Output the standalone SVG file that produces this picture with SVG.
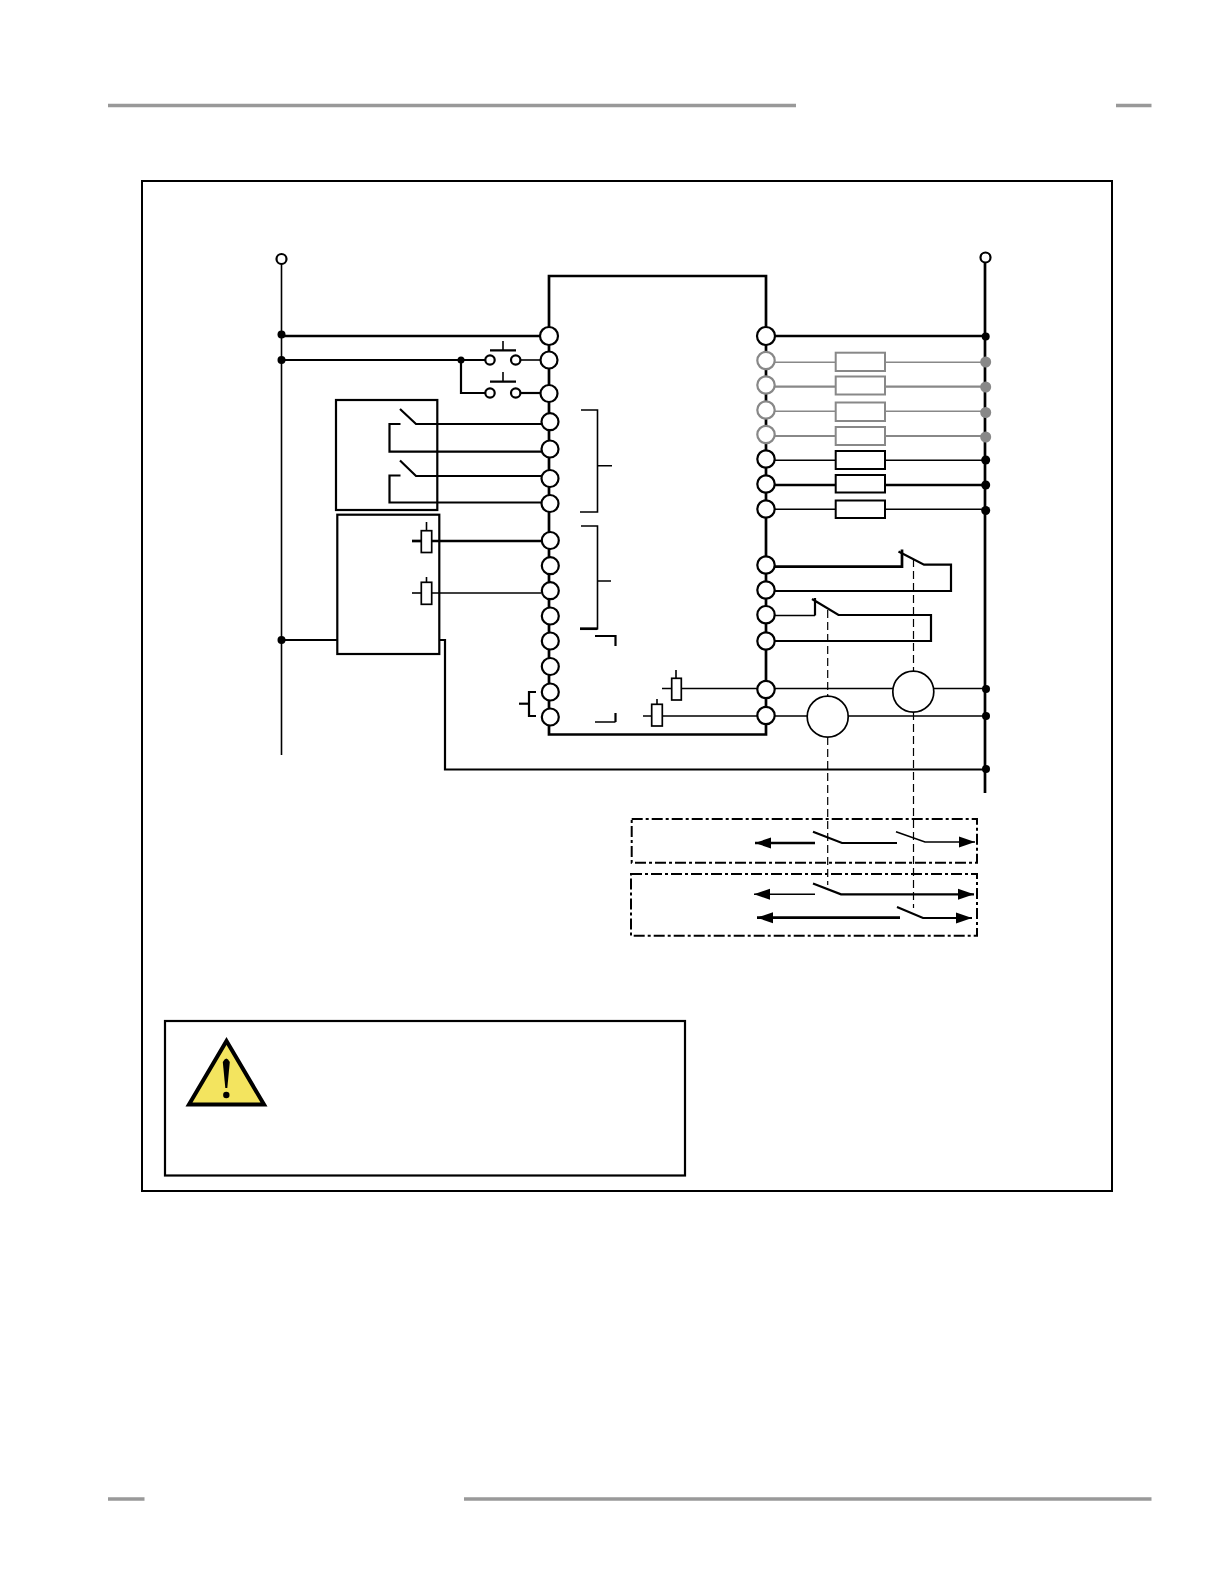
<svg xmlns="http://www.w3.org/2000/svg" width="1224" height="1584" viewBox="0 0 1224 1584">
<style>
.w{fill:none;stroke:#000;stroke-width:1.6}
.m{fill:none;stroke:#000;stroke-width:2.2}
.t{fill:none;stroke:#000;stroke-width:2.7}
.g{fill:none;stroke:#888;stroke-width:1.5}
.gm{fill:none;stroke:#888;stroke-width:2.2}
.term{fill:#fff;stroke:#000;stroke-width:2.2}
.gterm{fill:#fff;stroke:#888;stroke-width:2.2}
.dot{fill:#000}
.gdot{fill:#888}
.res{fill:#fff;stroke:#000;stroke-width:2}
.gres{fill:#fff;stroke:#888;stroke-width:2}
.coil{fill:#fff;stroke:#000;stroke-width:1.7}
.dash{fill:none;stroke:#000;stroke-width:1.2;stroke-dasharray:8 4}
.dd{fill:none;stroke:#000;stroke-width:2;stroke-dasharray:11 3 3 3}
.rule{fill:none;stroke:#999;stroke-width:3.500}
</style>
<defs>
<marker id="ah" markerUnits="userSpaceOnUse" markerWidth="17" markerHeight="12" refX="16" refY="6" orient="auto-start-reverse"><path d="M0 0.500L16 6L0 11.500Z" fill="#000"/></marker>
</defs>
<g id="page-rules">
<path class="rule" d="M108 105.500H796M1116 105.500H1151.500M108 1499H144.500M464 1499H1151.500"/>
</g>
<rect id="frame" x="142" y="181" width="970" height="1010" fill="none" stroke="#000" stroke-width="2"/>
<g id="connectors">
<path class="w" d="M281.500 264V755"/>
<path class="t" d="M985 260V793"/>
<path class="t" d="M549 336V276H766V336"/>
<path class="t" d="M549 336V734.500H766V336"/>
<path class="t" d="M281.500 336H540M775 336H985"/>
<path class="m" d="M281.500 360H485.500M461 360V393H485.500"/>
<path class="w" d="M520 360H540.500"/>
<path class="m" d="M520 393H540.500"/>
<path class="w" d="M503 341V350"/><path class="m" d="M490 350.300H516M490 381.700H516"/><path class="w" d="M503 372V381.700"/>
<path class="m" d="M541 424H416L400 409M541 476H416L400 460.500M541 502.500H389.500V475.500H400.500M541 451.700H389.500V424H400.500"/>
<path class="t" d="M431.700 541H541"/><path class="w" d="M431.700 593H541"/>
<path class="m" d="M281.500 640H337.300"/>
<path class="m" d="M439 640H445V769.500H985"/>
<path class="w" d="M581 410H597.500V512H580M597.500 465.700H612M581 526H597.500V628.700H590M597.500 581H611M595 722H615.500"/>
<path class="t" d="M580 628.700H597.500"/>
<path class="m" d="M595 636H615.500V646M615.500 722V713M536 692H529V716H536"/>
<path class="m" d="M519 703.700H529"/>
<path class="g" d="M775 362.300H835.700M885 362.300H985"/>
<path class="gm" d="M775 386.700H835.700M885 386.700H985"/>
<path class="g" d="M775 411.300H835.700M885 411.300H985"/>
<path class="gm" d="M775 436H835.700M885 436H985"/>
<path class="w" d="M775 460.300H835.700M885 460.300H985M775 509.300H835.700M885 509.300H985"/>
<path class="t" d="M775 485H835.700M885 485H985"/>
<path class="t" d="M775 566.700H902V549.500"/>
<path class="m" d="M898.500 551.500L924 564.700H951V591H775"/>
<path class="w" d="M775 615.500H815"/><path class="m" d="M815 615.500V598M812 599L838.500 615H931V641H775"/>
<path class="w" d="M676 670V678.300M662 688.500H671.700M681.300 688.500H757M775 688.500H893M934 688.500H985"/>
<path class="w" d="M657 699V704.300M643 716H651.700M662.300 716H757M775 716H807M848 716H985"/>
<path class="dash" d="M827.700 610V696M827.700 737V885"/>
<path class="dash" d="M913.500 559V671M913.500 712V908"/>
<path class="t" d="M815 843H755" marker-end="url(#ah)"/>
<path class="m" d="M813 831.700L842 843H897"/>
<path class="w" d="M896 831.700L925 842H975" marker-end="url(#ah)"/>
<path class="w" d="M815 894.300H754" marker-end="url(#ah)"/>
<path class="m" d="M813 883.500L841 894.300H974" marker-end="url(#ah)"/>
<path class="t" d="M900 917.700H757" marker-end="url(#ah)"/>
<path class="m" d="M897 907L923 918H972" marker-end="url(#ah)"/>
</g>
<g id="supply-left"><circle class="term" cx="281.500" cy="259" r="5"/></g>
<g id="supply-right"><circle class="term" cx="985.500" cy="257.500" r="5"/></g>
<g id="junctions">
<circle class="dot" cx="281.500" cy="334.500" r="4"/><circle class="dot" cx="281.500" cy="360" r="4"/><circle class="dot" cx="281.500" cy="640" r="4"/><circle class="dot" cx="461" cy="360" r="3.500"/>
<circle class="dot" cx="985.700" cy="336.500" r="4"/>
<circle class="gdot" cx="985.700" cy="362" r="5.500"/><circle class="gdot" cx="985.700" cy="387" r="5.500"/><circle class="gdot" cx="985.700" cy="412.500" r="5.500"/><circle class="gdot" cx="985.700" cy="437" r="5.500"/>
<circle class="dot" cx="985.700" cy="460" r="4.500"/><circle class="dot" cx="985.700" cy="485" r="4.500"/><circle class="dot" cx="985.700" cy="510.500" r="4.500"/>
<circle class="dot" cx="986" cy="689" r="4"/><circle class="dot" cx="986" cy="716" r="4"/><circle class="dot" cx="986" cy="769" r="4"/>
</g>
<g id="pushbuttons">
<circle class="term" cx="490" cy="360" r="4.700"/><circle class="term" cx="515.700" cy="360" r="4.700"/><circle class="term" cx="490" cy="393" r="4.700"/><circle class="term" cx="515.700" cy="393" r="4.700"/>
</g>
<g id="box-a"><rect x="336" y="400" width="101.300" height="110" fill="none" stroke="#000" stroke-width="2.200"/></g>
<g id="box-b"><rect x="337.300" y="514.700" width="102" height="139.300" fill="none" stroke="#000" stroke-width="2.200"/>
<path class="w" d="M426.500 522V531M426.500 577V582.300"/><path class="t" d="M412 541H421.300"/><path class="w" d="M412 593H421.300"/>
<rect class="coil" x="421.300" y="530.700" width="10.400" height="21.800"/><rect class="coil" x="421.300" y="582.300" width="10.400" height="22"/></g>
<g id="terminals-left">
<circle class="term" cx="549" cy="336" r="9"/><circle class="term" cx="549" cy="360" r="8.500"/><circle class="term" cx="549" cy="393.500" r="8.500"/>
<circle class="term" cx="550" cy="421.700" r="8.500"/><circle class="term" cx="550" cy="449" r="8.500"/><circle class="term" cx="550" cy="478.500" r="8.500"/><circle class="term" cx="550" cy="503.500" r="8.500"/>
<circle class="term" cx="550.300" cy="540.500" r="8.500"/><circle class="term" cx="550.300" cy="565.700" r="8.500"/><circle class="term" cx="550.300" cy="590.700" r="8.500"/><circle class="term" cx="550.300" cy="616" r="8.500"/><circle class="term" cx="550.300" cy="641" r="8.500"/><circle class="term" cx="550.300" cy="666.500" r="8.500"/><circle class="term" cx="550.300" cy="692" r="8.500"/><circle class="term" cx="550.300" cy="717" r="8.500"/>
</g>
<g id="terminals-right">
<circle class="term" cx="766" cy="336" r="9"/>
<circle class="gterm" cx="766" cy="360.500" r="8.700"/><circle class="gterm" cx="766" cy="385" r="8.700"/><circle class="gterm" cx="766" cy="410" r="8.700"/><circle class="gterm" cx="766" cy="434.500" r="8.700"/>
<circle class="term" cx="766" cy="459" r="8.700"/><circle class="term" cx="766" cy="484" r="8.700"/><circle class="term" cx="766" cy="509" r="8.700"/>
<circle class="term" cx="766" cy="565" r="8.700"/><circle class="term" cx="766" cy="590" r="8.700"/><circle class="term" cx="766" cy="614.700" r="8.700"/><circle class="term" cx="766" cy="641" r="8.700"/><circle class="term" cx="766" cy="689.500" r="8.700"/><circle class="term" cx="766" cy="715.500" r="8.700"/>
</g>
<g id="resistors">
<rect class="gres" x="835.700" y="352.700" width="49.300" height="18.300"/><rect class="gres" x="835.700" y="376.500" width="49.300" height="18"/><rect class="gres" x="835.700" y="402.500" width="49.300" height="18.500"/><rect class="gres" x="835.700" y="427" width="49.300" height="18"/>
<rect class="res" x="835.700" y="451" width="49.300" height="18"/><rect class="res" x="835.700" y="475" width="49.300" height="17.500"/><rect class="res" x="835.700" y="500.500" width="49.300" height="17.500"/>
</g>
<g id="coil-1"><rect class="coil" x="671.700" y="678.300" width="9.600" height="21.700"/></g>
<g id="coil-2"><rect class="coil" x="651.700" y="704.300" width="10.600" height="21.700"/></g>
<g id="relay-k1"><circle cx="827.700" cy="716.700" r="20.500" fill="#fff" stroke="#000" stroke-width="1.700"/></g>
<g id="relay-k2"><circle cx="913.300" cy="691.700" r="20.500" fill="#fff" stroke="#000" stroke-width="1.700"/></g>
<g id="output-box-1"><rect class="dd" x="631.700" y="819" width="345.300" height="43.700"/></g>
<g id="output-box-2"><rect class="dd" x="631" y="874" width="346" height="61.700"/></g>
<g id="warning">
<rect x="165" y="1021" width="520" height="154.500" fill="none" stroke="#000" stroke-width="2.200"/>
<path d="M226.500 1041L264 1104.500H189Z" fill="#f3e45f" stroke="#000" stroke-width="4" stroke-linejoin="miter"/>
<path d="M222.800 1062Q226.300 1055 229.800 1062L227.300 1088H225.300Z" fill="#000"/>
<circle cx="226.300" cy="1095" r="3.200" fill="#000"/>
</g>
</svg>
